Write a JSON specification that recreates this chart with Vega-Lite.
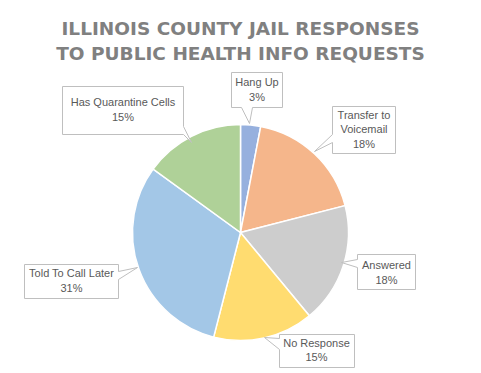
{
  "$schema": "https://vega.github.io/schema/vega-lite/v6.json",
  "width": 479,
  "height": 371,
  "padding": 1,
  "autosize": "none",
  "background": "white",
  "config": {"view": {"stroke": "#d9d9d9", "strokeWidth": 1}},
  "title": {
    "text": ["ILLINOIS COUNTY JAIL RESPONSES", "TO PUBLIC HEALTH INFO REQUESTS"],
    "font": "DejaVu Sans",
    "fontSize": 18.5,
    "fontWeight": "bold",
    "color": "#808080",
    "anchor": "middle",
    "lineHeight": 25,
    "offset": -62
  },
  "data": {
    "values": [
      {"category": "Hang Up", "label": "Hang Up\n3%", "value": 3, "order": 1},
      {"category": "Transfer to Voicemail", "label": "Transfer to\nVoicemail\n18%", "value": 18, "order": 2},
      {"category": "Answered", "label": "Answered\n18%", "value": 18, "order": 3},
      {"category": "No Response", "label": "No Response\n15%", "value": 15, "order": 4},
      {"category": "Told To Call Later", "label": "Told To Call Later\n31%", "value": 31, "order": 5},
      {"category": "Has Quarantine Cells", "label": "Has Quarantine Cells\n15%", "value": 15, "order": 6}
    ]
  },
  "layer": [
    {
      "mark": {"type": "arc", "outerRadius": 108, "stroke": "white", "strokeWidth": 1.5, "fillOpacity": 0.56, "y": {"expr": "height/2+46"}},
      "encoding": {
        "theta": {"field": "value", "type": "quantitative", "stack": true},
        "order": {"field": "order", "type": "quantitative"},
        "color": {
          "field": "category",
          "type": "nominal",
          "scale": {
            "domain": ["Hang Up", "Transfer to Voicemail", "Answered", "No Response", "Told To Call Later", "Has Quarantine Cells"],
            "range": ["#4472C4", "#ED7D31", "#A5A5A5", "#FFC000", "#5B9BD5", "#70AD47"]
          },
          "legend": null
        }
      }
    },
    {
      "mark": {"type": "point", "size": 4, "filled": true, "fill": "white", "stroke": "#bfbfbf", "strokeWidth": 1, "opacity": 1, "y": {"expr": "height/2+46"}},
      "encoding": {
        "shape": {
          "field": "category",
          "type": "nominal",
          "scale": {
            "domain": ["Hang Up", "Transfer to Voicemail", "Answered", "No Response", "Told To Call Later", "Has Quarantine Cells"],
            "range": [
              "M-9,-160H42V-125H12L9,-109L1,-125H-9Z",
              "M92,-126H155V-79H92V-90L74,-81L92,-98Z",
              "M117,22H175V57H117V35L101,30L117,27Z",
              "M39,102H114V135H39V117L24,105L39,106Z",
              "M-216,32H-122V39L-103,35L-122,47V66H-216Z",
              "M-178,-146H-57V-106L-49,-90L-57,-98H-178Z"
            ]
          },
          "legend": null
        }
      }
    },
    {
      "mark": {
        "type": "text",
        "radius": 150,
        "font": "Liberation Sans",
        "fontSize": 11,
        "color": "#595959",
        "lineBreak": "\n",
        "lineHeight": 14.5,
        "align": "center",
        "baseline": "middle",
        "y": {"expr": "height/2+46"},
        "dx": {"expr": "[2.4, 20.8, 3.3, 43.3, -27.9, -49.4][datum.order - 1]"},
        "dy": {"expr": "[0, -7.6, -12.7, -35, -9, 4.2][datum.order - 1]"}
      },
      "encoding": {
        "theta": {"field": "value", "type": "quantitative", "stack": true},
        "order": {"field": "order", "type": "quantitative"},
        "text": {"field": "label"}
      }
    }
  ]
}
